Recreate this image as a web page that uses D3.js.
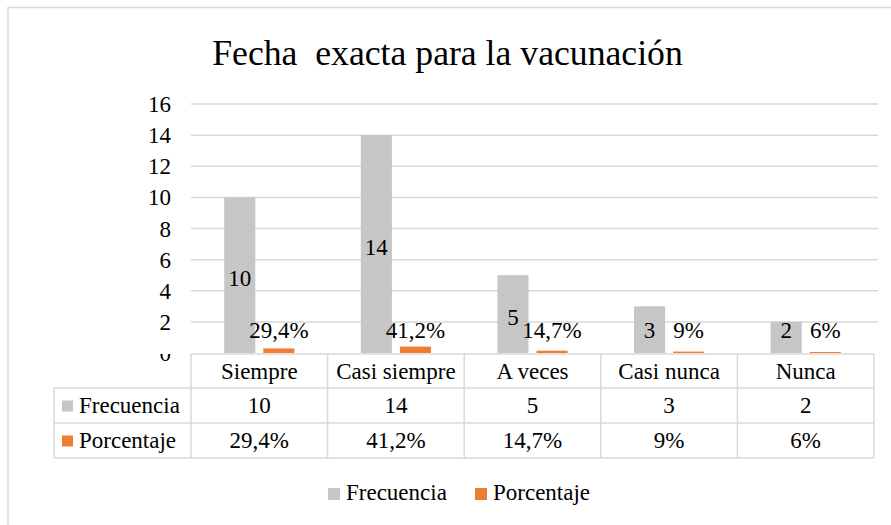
<!DOCTYPE html>
<html><head><meta charset="utf-8">
<script src="https://cdn.jsdelivr.net/npm/d3@7"></script>
<style>
html,body{margin:0;padding:0;background:#fff;}
svg text{font-family:"Liberation Serif","Times New Roman",serif !important;fill:#000;}
</style></head>
<body>
<svg id="c" width="891" height="525" style="font-family:'Liberation Serif',serif"></svg>
<script>
const categories = ["Siempre","Casi siempre","A veces","Casi nunca","Nunca"];
const frecuencia = [10,14,5,3,2];
const porcentaje = [0.294,0.412,0.147,0.09,0.06];
const porcentajeLabels = ["29,4%","41,2%","14,7%","9%","6%"];
const seriesNames = ["Frecuencia","Porcentaje"];
const yTicks = [0,2,4,6,8,10,12,14,16];
const colors = ["#c6c6c6","#ed7d31"];
const SERIF = "'Liberation Serif','Times New Roman',serif";
const FS = 23;

const svg = d3.select("#c");
// outer border
svg.append("path").attr("d","M8,525 V7.5 H891").attr("fill","none").attr("stroke","#d9d9d9").attr("stroke-width",1.5);

svg.append("text").attr("x",447.5).attr("y",65).attr("text-anchor","middle")
  .attr("font-size",35.7).style("white-space","pre").text("Fecha  exacta para la vacunación");

const x0 = d3.scaleBand().domain(categories).range([191,874]);
const y = d3.scaleLinear().domain([0,16]).range([353,104]);

// gridlines
svg.append("g").selectAll("line").data(yTicks.filter(d=>d>0)).join("line")
  .attr("x1",191).attr("x2",878).attr("y1",d=>y(d)).attr("y2",d=>y(d))
  .attr("stroke","#d9d9d9").attr("stroke-width",1.5);

// y axis labels
const cp = svg.append("clipPath").attr("id","zclip");
cp.append("rect").attr("x",100).attr("y",0).attr("width",100).attr("height",345);
cp.append("rect").attr("x",100).attr("y",354).attr("width",100).attr("height",171);
const yWrap = svg.append("g").attr("clip-path","url(#zclip)");
const yAx = yWrap.append("g").attr("transform","translate(171,0)")
  .call(d3.axisLeft(y).tickValues(yTicks).tickSize(0).tickPadding(0).tickFormat(d3.format("d")));
yAx.attr("font-family",SERIF);
yAx.select(".domain").remove();
yAx.selectAll("text").attr("font-size",FS).attr("fill","#000").attr("dy","0.33em");

const x1 = d3.scaleBand().domain(seriesNames).range([0,x0.bandwidth()]).paddingInner(0.205).paddingOuter(0.85);

const gBars = svg.append("g");
categories.forEach((c,i)=>{
  const vals = [frecuencia[i], porcentaje[i]];
  vals.forEach((v,j)=>{
    gBars.append("rect").attr("x",x0(c)+x1(seriesNames[j])).attr("width",x1.bandwidth())
      .attr("y",y(v)).attr("height",y(0)-y(v)).attr("fill",colors[j]);
  });
  const gx = x0(c)+x1(seriesNames[0])+x1.bandwidth()/2;
  const mid = Math.min((y(frecuencia[i])+y(0))/2 + 3, y(0)-23);
  svg.append("text").attr("x",gx).attr("y",mid).attr("dy","0.33em").attr("text-anchor","middle")
    .attr("font-size",FS).text(frecuencia[i]);
  const ox = x0(c)+x1(seriesNames[1])+x1.bandwidth()/2;
  svg.append("text").attr("x",ox).attr("y",y(0)-15).attr("text-anchor","middle")
    .attr("font-size",FS).text(porcentajeLabels[i]);
});

// data table
const rowY = [354,388,423,458];
const tbl = svg.append("g");
const lineC = "#d9d9d9";
tbl.append("line").attr("x1",191).attr("x2",874).attr("y1",rowY[0]).attr("y2",rowY[0]).attr("stroke",lineC).attr("stroke-width",1.5);
[1,2,3].forEach(k=>tbl.append("line").attr("x1",54).attr("x2",874).attr("y1",rowY[k]).attr("y2",rowY[k]).attr("stroke",lineC).attr("stroke-width",1.5));
tbl.append("line").attr("x1",54).attr("x2",54).attr("y1",rowY[1]).attr("y2",rowY[3]).attr("stroke",lineC).attr("stroke-width",1.5);
categories.forEach(c=>tbl.append("line").attr("x1",x0(c)).attr("x2",x0(c)).attr("y1",rowY[0]).attr("y2",rowY[3]).attr("stroke",lineC).attr("stroke-width",1.5));
tbl.append("line").attr("x1",874).attr("x2",874).attr("y1",rowY[0]).attr("y2",rowY[3]).attr("stroke",lineC).attr("stroke-width",1.5);
categories.forEach((c,i)=>{
  const cx = x0(c)+x0.bandwidth()/2;
  tbl.append("text").attr("x",cx).attr("y",(rowY[0]+rowY[1])/2).attr("dy","0.33em").attr("text-anchor","middle").attr("font-size",FS).text(c);
  tbl.append("text").attr("x",cx).attr("y",(rowY[1]+rowY[2])/2).attr("dy","0.33em").attr("text-anchor","middle").attr("font-size",FS).text(frecuencia[i]);
  tbl.append("text").attr("x",cx).attr("y",(rowY[2]+rowY[3])/2).attr("dy","0.33em").attr("text-anchor","middle").attr("font-size",FS).text(porcentajeLabels[i]);
});
seriesNames.forEach((s,j)=>{
  const cy = (rowY[j+1]+rowY[j+2])/2;
  tbl.append("rect").attr("x",62).attr("y",cy-5).attr("width",11).attr("height",11).attr("fill",colors[j]);
  tbl.append("text").attr("x",79).attr("y",cy).attr("dy","0.33em").attr("font-size",FS).text(s);
});

// legend
const legX = [328,475];
seriesNames.forEach((s,j)=>{
  svg.append("rect").attr("x",legX[j]).attr("y",488).attr("width",12).attr("height",12).attr("fill",colors[j]);
  svg.append("text").attr("x",legX[j]+18).attr("y",492).attr("dy","0.33em").attr("font-size",FS).text(s);
});
</script>
</body></html>
